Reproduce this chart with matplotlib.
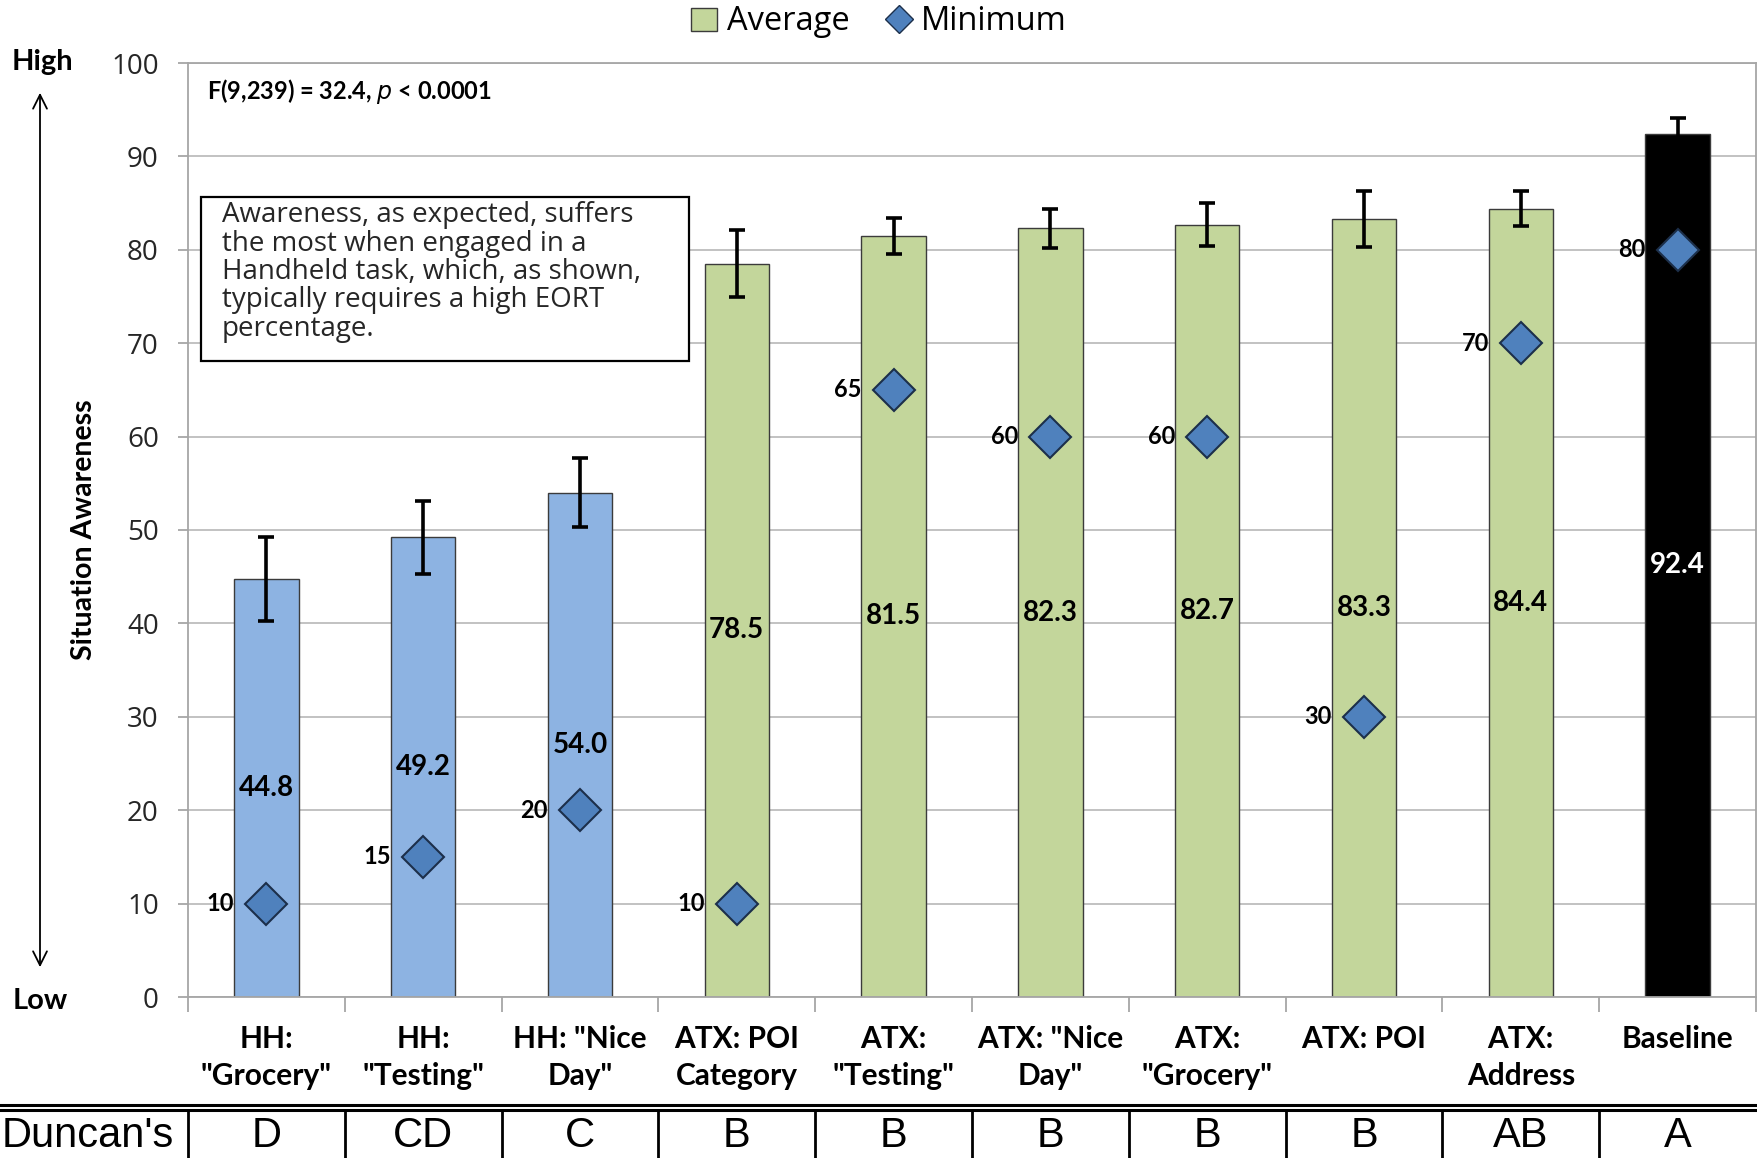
import matplotlib
matplotlib.use("Agg")
import matplotlib.pyplot as plt
from matplotlib.patches import Patch, Rectangle, FancyArrowPatch
from matplotlib.lines import Line2D
import matplotlib.transforms as mtransforms
import numpy as np

# ---- data ----
categories = ['HH:\n"Grocery"', 'HH:\n"Testing"', 'HH: "Nice\nDay"', 'ATX: POI\nCategory',
              'ATX:\n"Testing"', 'ATX: "Nice\nDay"', 'ATX:\n"Grocery"', 'ATX: POI',
              'ATX:\nAddress', 'Baseline']
groups = ['HH', 'HH', 'HH', 'ATX', 'ATX', 'ATX', 'ATX', 'ATX', 'ATX', 'Baseline']
average = [44.8, 49.2, 54.0, 78.5, 81.5, 82.3, 82.7, 83.3, 84.4, 92.4]
avg_err = [4.5, 3.9, 3.7, 3.6, 1.9, 2.1, 2.3, 3.0, 1.9, 1.7]
minimum = [10, 15, 20, 10, 65, 60, 60, 30, 70, 80]
duncan = ['D', 'CD', 'C', 'B', 'B', 'B', 'B', 'B', 'AB', 'A']

group_colors = {'HH': '#8DB3E2', 'ATX': '#C3D69B', 'Baseline': '#000000'}
diamond_color = '#4F81BD'

BOLD = 'Lato'
REG = 'Open Sans'

W, H = 1758, 1158
fig = plt.figure(figsize=(W / 100, H / 100), dpi=100)
ax = fig.add_axes([188 / W, 1 - 997 / H, (1756 - 188) / W, (997 - 63) / H])

x = np.arange(len(categories))
colors = [group_colors[g] for g in groups]

ax.bar(x, average, width=0.41, color=colors, edgecolor='#3b3b3b', linewidth=1.0, zorder=2)
ax.errorbar(x, average, yerr=avg_err, fmt='none', ecolor='black', elinewidth=2.6,
            capsize=5.5, capthick=2.6, zorder=3)
ax.plot(x, minimum, linestyle='none', marker='D', markersize=21,
        markerfacecolor=diamond_color, markeredgecolor='#1c2f4a', markeredgewidth=1.5, zorder=4)

# value labels
for xi, a, m, g in zip(x, average, minimum, groups):
    ax.text(xi, a / 2, f'{a:.1f}', ha='center', va='center', fontsize=20,
            fontweight='bold', family=BOLD, color='white' if g == 'Baseline' else 'black', zorder=5)
    ax.annotate(f'{m}', (xi, m), xytext=(-23, 0), textcoords='offset points',
                ha='right', va='center', fontsize=17, fontweight='bold', family=BOLD, zorder=5)

ax.set_xlim(-0.5, len(categories) - 0.5)
ax.set_ylim(0, 100)
ax.set_yticks(np.arange(0, 101, 10))
ax.yaxis.grid(True, color='#bdbdbd', linewidth=1.3, zorder=0)
ax.set_axisbelow(True)
for s in ax.spines.values():
    s.set_color('#a6a6a6')
    s.set_linewidth(1.3)
ax.tick_params(axis='y', length=7, color='#a6a6a6', width=1.3, pad=14, labelsize=20)
for lab in ax.get_yticklabels():
    lab.set_family(REG)
    lab.set_color('#262626')

ax.set_xticks(x)
ax.set_xticklabels(categories, fontsize=21.5, fontweight='bold', family=BOLD, linespacing=1.4)
ax.set_xticks(np.arange(-0.5, len(categories), 1), minor=True)
ax.tick_params(axis='x', which='major', length=0, pad=20)
ax.tick_params(axis='x', which='minor', length=11, color='#a6a6a6', width=1.3)

ax.set_ylabel('Situation Awareness', fontsize=20.5, fontweight='bold', family=BOLD, labelpad=10)

# statistics note
ax.text(0.012, 0.970, r'F(9,239) = 32.4, $\it{p}$ < 0.0001', transform=ax.transAxes,
        ha='left', va='center', fontsize=17, fontweight='bold', family=BOLD)

# annotation box
ax.add_patch(Rectangle((0.0086, 0.681), 0.3111, 0.176, transform=ax.transAxes,
                       facecolor='white', edgecolor='black', linewidth=1.6, zorder=6))
ax.text(0.0215, 0.852, 'Awareness, as expected, suffers\nthe most when engaged in a\n'
        'Handheld task, which, as shown,\ntypically requires a high EORT\npercentage.',
        transform=ax.transAxes, ha='left', va='top', fontsize=20, family=REG,
        color='#262626', linespacing=1.02, zorder=7)

# High / Low scale
fig.text(42 / W, 1 - 62 / H, 'High', ha='center', va='center', fontsize=21,
         fontweight='bold', family=BOLD)
fig.text(40 / W, 1 - 1001 / H, 'Low', ha='center', va='center', fontsize=21,
         fontweight='bold', family=BOLD)
fig.add_artist(FancyArrowPatch(
    (40 / W, 1 - 90 / H), (40 / W, 1 - 970 / H), transform=fig.transFigure,
    arrowstyle='<->,head_length=10,head_width=5', color='black', linewidth=1.3,
    mutation_scale=1))

# legend
handles = [Patch(facecolor=group_colors['ATX'], edgecolor='#3b3b3b', linewidth=1.0, label='Average'),
           Line2D([], [], linestyle='none', marker='D', markersize=14,
                  markerfacecolor=diamond_color, markeredgecolor='#1c2f4a', label='Minimum')]
fig.legend(handles=handles, loc='center', bbox_to_anchor=(879 / W, 1 - 22 / H), ncol=2,
           frameon=False, prop={'family': REG, 'size': 23.5}, handlelength=0.8,
           handletextpad=0.3, columnspacing=1.1)

# Duncan's grouping row
blend = mtransforms.blended_transform_factory(ax.transData, fig.transFigure)
y_top1 = 1 - 1105 / H
y_top2 = 1 - 1110 / H
for yy in (y_top1, y_top2):
    fig.add_artist(Line2D([0, 1], [yy, yy], transform=fig.transFigure, color='black', linewidth=2.2))
for b in np.arange(-0.5, len(categories) - 0.5, 1):
    ax.add_line(Line2D([b, b], [0, y_top2], transform=blend, color='black',
                       linewidth=2.0, clip_on=False))
for xi, d in zip(x, duncan):
    ax.text(xi, 1 - 1136 / H, d, transform=blend, ha='center', va='center',
            fontsize=30, family='Liberation Sans', clip_on=False)
fig.text(174 / W, 1 - 1136 / H, "Duncan's", ha='right', va='center', fontsize=30,
         family='Liberation Sans')

fig.savefig('out.png', dpi=100)
